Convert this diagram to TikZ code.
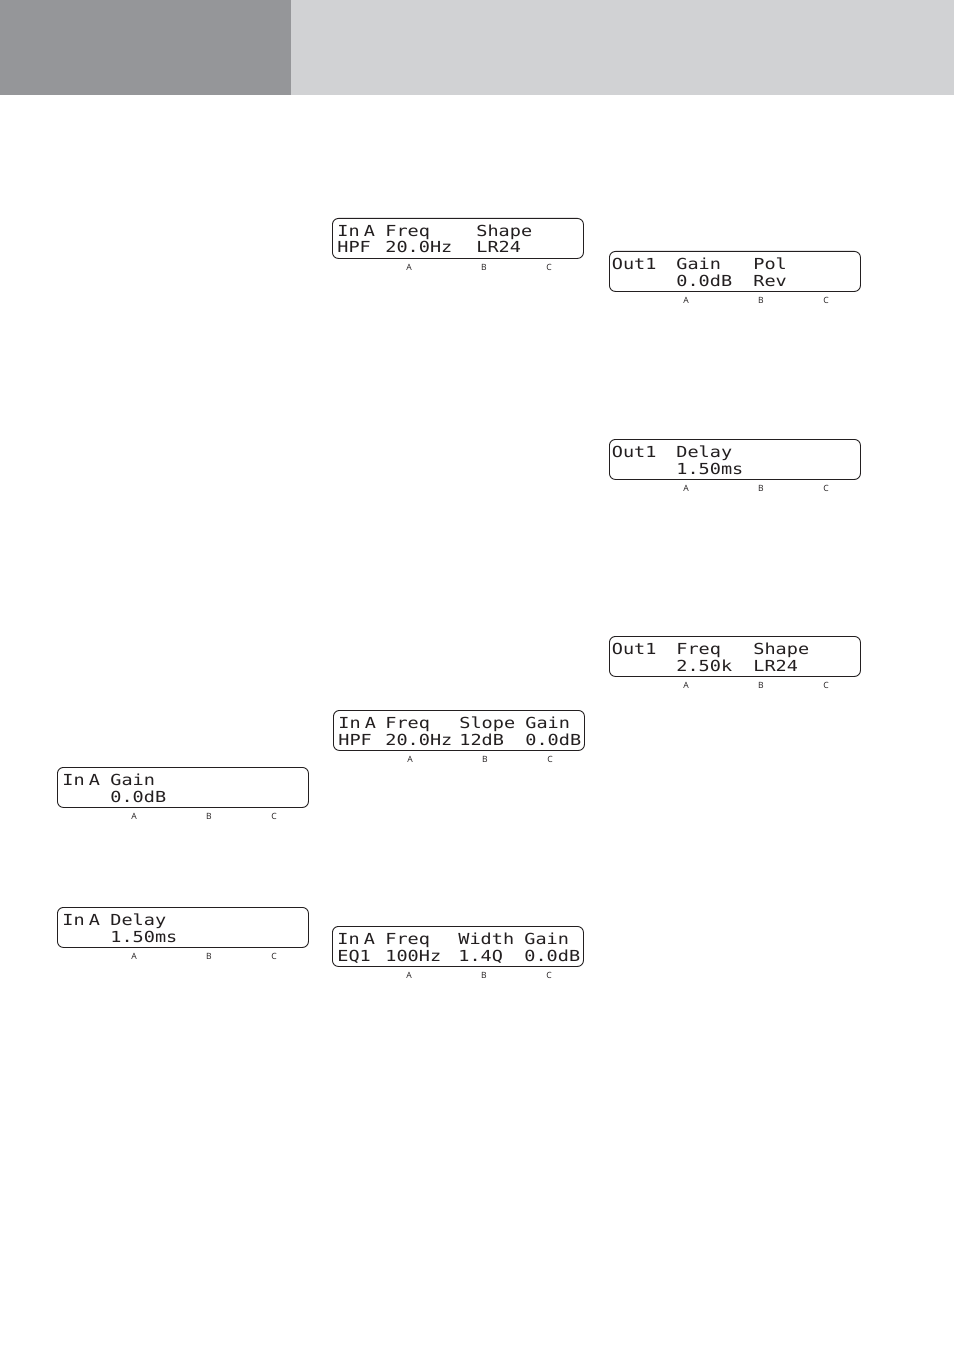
\documentclass[tikz,border=0pt]{standalone}
\usepackage{fontspec}
\usetikzlibrary{calc}
\newfontfamily\lcdfont[FakeStretch=1.22]{DejaVu Sans Mono}
\newfontfamily\lblfont{Open Sans}
\definecolor{hdrdark}{HTML}{959699}
\definecolor{hdrlight}{HTML}{D1D2D4}
\definecolor{ink}{HTML}{231F20}
\tikzset{
  lcdframe/.style={draw=ink, line width=0.45pt, rounded corners=3pt, minimum width=125.5pt, minimum height=20pt, inner sep=0pt, anchor=north west},
  lcdtext/.style={font=\lcdfont\fontsize{7.6pt}{8pt}\selectfont, text=ink, anchor=base west, inner sep=0pt},
  keylbl/.style={font=\lblfont\fontsize{4.3pt}{5pt}\selectfont, text=ink, inner sep=0pt},
}
\newcommand\inA{In\kern-3.5pt\ A}
\newcommand\lcdbox[3]{%
  \node[lcdframe] (#1) at (#2,#3) {};
  \node[keylbl] (#1A) at ($(#1.north west)+(77,49)$) {A};
  \node[keylbl] (#1B) at ($(#1.north west)+(152,49)$) {B};
  \node[keylbl] (#1C) at ($(#1.north west)+(217,49)$) {C};
}
\newcommand\lcdword[4]{\node[lcdtext] (#1) at (#2,#3) {#4};}
\begin{document}
\begin{tikzpicture}[x=0.5pt,y=-0.5pt]
\useasboundingbox (0,0) rectangle (954,1348);
\fill[white] (0,0) rectangle (954,1348);
\fill[hdrdark] (0,0) rectangle (291,95);
\fill[hdrlight] (291,0) rectangle (954,95);

% Box 1: In A Freq / Shape
\lcdbox{b1}{332}{218}
\lcdword{b1t1}{337}{236.5}{\inA}
\lcdword{b1t2}{385}{236.5}{Freq}
\lcdword{b1t3}{476}{236.5}{Shape}
\lcdword{b1v1}{337}{253}{HPF}
\lcdword{b1v2}{385}{253}{20.0Hz}
\lcdword{b1v3}{476}{253}{LR24}

% Box 2: Out1 Gain Pol
\lcdbox{b2}{609}{251}
\lcdword{b2t1}{611.5}{269.5}{Out1}
\lcdword{b2t2}{676}{269.5}{Gain}
\lcdword{b2t3}{753}{269.5}{Pol}
\lcdword{b2v2}{676}{286}{0.0dB}
\lcdword{b2v3}{753}{286}{Rev}

% Box 3: Out1 Delay
\lcdbox{b3}{609}{439}
\lcdword{b3t1}{611.5}{457.5}{Out1}
\lcdword{b3t2}{676}{457.5}{Delay}
\lcdword{b3v2}{676}{474}{1.50ms}

% Box 4: Out1 Freq Shape
\lcdbox{b4}{609}{636}
\lcdword{b4t1}{611.5}{654.5}{Out1}
\lcdword{b4t2}{676}{654.5}{Freq}
\lcdword{b4t3}{753}{654.5}{Shape}
\lcdword{b4v2}{676}{671}{2.50k}
\lcdword{b4v3}{753}{671}{LR24}

% Box 5: In A Freq Slope Gain
\lcdbox{b5}{333}{710}
\lcdword{b5t1}{338}{728.5}{\inA}
\lcdword{b5t2}{385}{728.5}{Freq}
\lcdword{b5t3}{459}{728.5}{Slope}
\lcdword{b5t4}{525}{728.5}{Gain}
\lcdword{b5v1}{338}{745}{HPF}
\lcdword{b5v2}{385}{745}{20.0Hz}
\lcdword{b5v3}{459}{745}{12dB}
\lcdword{b5v4}{525}{745}{0.0dB}

% Box 6: In A Gain
\lcdbox{b6}{57}{767}
\lcdword{b6t1}{62}{785.5}{\inA}
\lcdword{b6t2}{110}{785.5}{Gain}
\lcdword{b6v2}{110}{802}{0.0dB}

% Box 7: In A Delay
\lcdbox{b7}{57}{907}
\lcdword{b7t1}{62}{925.5}{\inA}
\lcdword{b7t2}{110}{925.5}{Delay}
\lcdword{b7v2}{110}{942}{1.50ms}

% Box 8: In A Freq Width Gain
\lcdbox{b8}{332}{926}
\lcdword{b8t1}{337}{944.5}{\inA}
\lcdword{b8t2}{385}{944.5}{Freq}
\lcdword{b8t3}{458}{944.5}{Width}
\lcdword{b8t4}{524}{944.5}{Gain}
\lcdword{b8v1}{337}{961}{EQ1}
\lcdword{b8v2}{385}{961}{100Hz}
\lcdword{b8v3}{458}{961}{1.4Q}
\lcdword{b8v4}{524}{961}{0.0dB}
\end{tikzpicture}
\end{document}
